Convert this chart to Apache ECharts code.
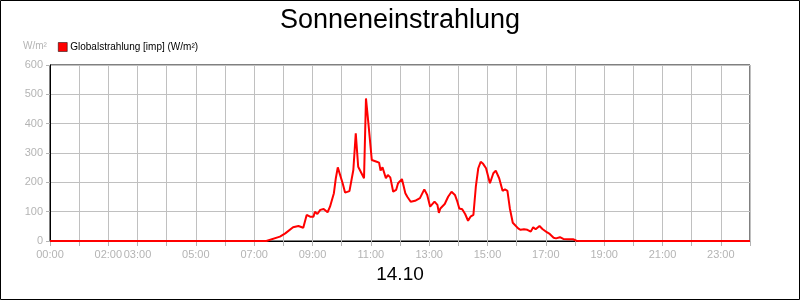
<!DOCTYPE html>
<html>
<head>
<meta charset="utf-8">
<script src="https://cdn.jsdelivr.net/npm/echarts@6/dist/echarts.min.js"></script>
<style>
html,body{margin:0;padding:0;background:#fff;}
#c{width:800px;height:300px;}
</style>
</head>
<body>
<div id="c"></div>
<script>
var titleText = "Sonneneinstrahlung";
var seriesName = "Globalstrahlung [imp] (W/m²)";
var unitText = "W/m²";
var dateText = "14.10";
var labelHours = [0, 2, 3, 5, 7, 9, 11, 13, 15, 17, 19, 21, 23];
var times = ["00:00","07:25","07:53","08:04","08:20","08:31","08:41","08:48","08:55","09:02","09:05","09:10","09:16","09:23","09:31","09:36","09:44","09:48","09:52","09:56","10:02","10:07","10:16","10:24","10:29","10:34","10:46","10:50","10:55","11:02","11:06","11:12","11:17","11:20","11:24","11:28","11:31","11:35","11:40","11:46","11:52","11:56","12:04","12:07","12:11","12:15","12:19","12:22","12:26","12:31","12:35","12:41","12:50","12:56","13:02","13:11","13:17","13:20","13:23","13:32","13:36","13:39","13:46","13:53","13:58","14:02","14:08","14:14","14:20","14:25","14:31","14:36","14:41","14:46","14:51","14:57","15:05","15:12","15:17","15:24","15:31","15:36","15:41","15:46","15:52","15:56","16:03","16:08","16:15","16:22","16:26","16:29","16:34","16:39","16:47","16:53","17:02","17:08","17:16","17:21","17:29","17:36","17:46","17:56","18:03","18:10","24:00"];
var values = [0,0,15,26,47,51,45,89,83,83,100,92,106,109,98,117,163,214,251,256,197,165,170,242,367,253,214,486,401,276,273,270,267,240,251,251,214,225,217,168,174,197,211,208,163,151,153,134,140,137,131,146,176,157,117,134,123,96,111,126,128,151,168,157,134,111,108,92,69,83,89,185,248,270,263,248,197,231,240,214,171,176,171,111,62,60,43,38,40,38,41,32,47,40,51,41,30,24,11,9,13,7,6,6,1,0,0];

function toHours(s){var p=s.split(":");return +p[0]+(+p[1])/60;}
var data = times.map(function(t,i){return [toHours(t), values[i]];});

var font = "Liberation Sans";
var grey = "#b4b4b4";
var chart = echarts.init(document.getElementById('c'), null, {renderer:'canvas'});
chart.setOption({
  animation:false,
  backgroundColor:'#fff',
  title:{text:titleText,left:'center',top:2,textStyle:{fontFamily:font,fontSize:27,fontWeight:'normal',color:'#000'}},
  legend:{left:53,top:37,itemWidth:9,itemHeight:9,itemGap:4,icon:'rect',
    textStyle:{fontFamily:font,fontSize:10,color:'#000',padding:[0,0,0,-2]},
    data:[{name:seriesName,itemStyle:{color:'#ff0000',borderColor:'#000',borderWidth:0.5}}]},
  grid:{left:50,right:50,top:65,bottom:59,show:true,borderColor:'#000',borderWidth:1,backgroundColor:'#fff'},
  xAxis:{type:'value',min:0,max:24,interval:1,
    axisLine:{show:true,lineStyle:{color:'#000',width:1}},
    axisTick:{show:true,length:5,lineStyle:{color:grey}},
    splitLine:{show:true,lineStyle:{color:'#c0c0c0',width:1}},
    axisLabel:{margin:8,color:grey,fontFamily:font,fontSize:11,
      formatter:function(v){var h=Math.round(v);return labelHours.indexOf(h)>=0?((h<10?'0':'')+h+':00'):'';}}},
  yAxis:{type:'value',min:0,max:600,interval:100,
    axisLine:{show:true,lineStyle:{color:'#000',width:1}},
    axisTick:{show:true,length:4,lineStyle:{color:grey}},
    splitLine:{show:true,lineStyle:{color:'#c0c0c0',width:1}},
    axisLabel:{margin:7,color:grey,fontFamily:font,fontSize:11}},
  graphic:[
    {type:'rect',shape:{x:0.5,y:0.5,width:799,height:299},style:{fill:null,stroke:'#000',lineWidth:1},z:100,silent:true},
    {type:'text',left:23,top:41,style:{text:unitText,fill:grey,font:'10px "Liberation Sans"'}},
    {type:'text',left:'center',top:265,style:{text:dateText,fill:'#000',font:'19px "Liberation Sans"'}}
  ],
  series:[{name:seriesName,type:'line',data:data,showSymbol:false,symbol:'none',
    lineStyle:{color:'#ff0000',width:2},itemStyle:{color:'#ff0000'},z:5}]
});
</script>
</body>
</html>
